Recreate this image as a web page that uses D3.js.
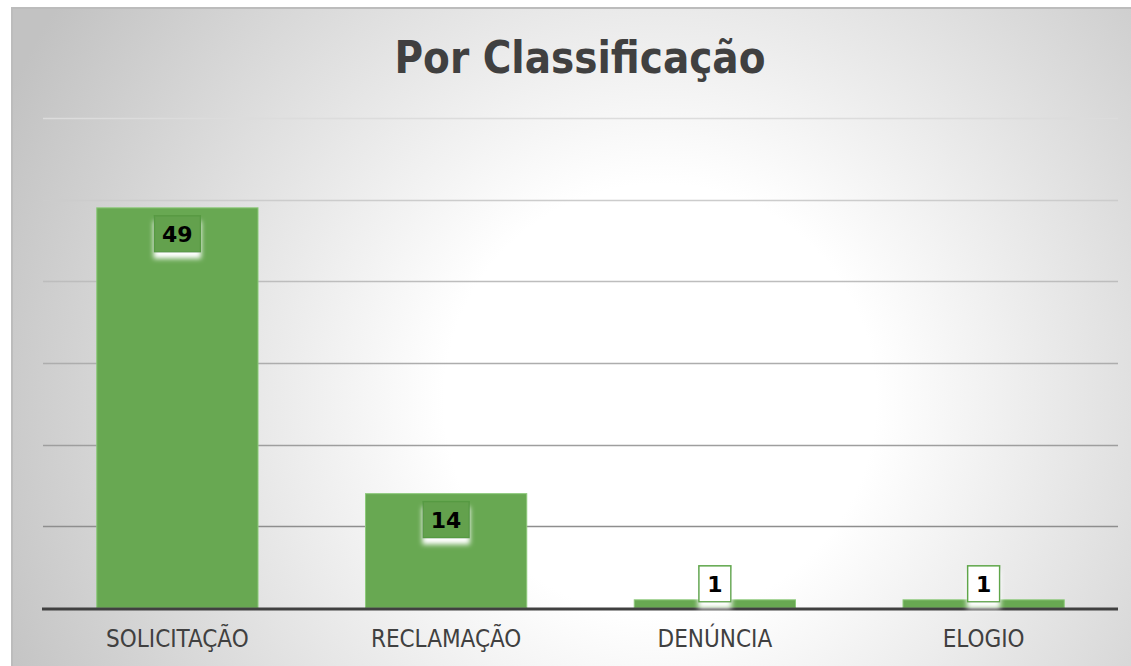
<!DOCTYPE html>
<html>
<head>
<meta charset="utf-8">
<script src="https://cdn.jsdelivr.net/npm/d3@7"></script>
<style>
  body { margin: 0; background: #ffffff; }
</style>
</head>
<body>
<div id="chart"></div>
<script>
// chart data
var categories = ["SOLICITAÇÃO", "RECLAMAÇÃO", "DENÚNCIA", "ELOGIO"];
var values = [49, 14, 1, 1];
var yTicks = [0, 10, 20, 30, 40, 50, 60];
var title = "Por Classificação";

var w = 1131,
    h = 666;

var svg = d3.select("#chart").append("svg")
    .attr("width", w)
    .attr("height", h);

var defs = svg.append("defs");

// background gradient, white in the middle, grey at the edges
var bg = defs.append("radialGradient")
    .attr("id", "bgGrad")
    .attr("gradientUnits", "userSpaceOnUse")
    .attr("cx", 660).attr("cy", 400).attr("r", 720);
bg.append("stop").attr("offset", "0%").attr("stop-color", "#ffffff");
bg.append("stop").attr("offset", "30%").attr("stop-color", "#ffffff");
bg.append("stop").attr("offset", "100%").attr("stop-color", "#c2c2c2");

// white glow under the data labels
var glow = defs.append("filter")
    .attr("id", "glow")
    .attr("x", "-30%").attr("y", "-30%")
    .attr("width", "160%").attr("height", "180%");
glow.append("feDropShadow")
    .attr("dx", 0).attr("dy", 6)
    .attr("stdDeviation", 2.5)
    .attr("flood-color", "#ffffff")
    .attr("flood-opacity", 1);

svg.append("rect")
    .attr("x", 12).attr("y", 8)
    .attr("width", w).attr("height", h)
    .attr("fill", "url(#bgGrad)")
    .attr("stroke", "#bcbcbc")
    .attr("stroke-width", 2);

var margin = {left: 43, right: 13, top: 118, bottom: 58};

var x = d3.scaleBand()
    .domain(categories)
    .range([margin.left, w - margin.right])
    .paddingInner(0.4)
    .paddingOuter(0.2);

var y = d3.scaleLinear()
    .domain([0, 60])
    .range([h - margin.bottom, margin.top]);

// gridlines get darker towards the bottom
var gridColor = d3.scaleLinear()
    .domain([60, 10])
    .range(["#dcdcdc", "#8e8e8e"]);

svg.append("g")
    .selectAll("line")
    .data(yTicks.filter(function(d) { return d > 0; }))
    .enter().append("line")
    .attr("x1", margin.left)
    .attr("x2", w - margin.right)
    .attr("y1", function(d) { return Math.round(y(d)) + 0.5; })
    .attr("y2", function(d) { return Math.round(y(d)) + 0.5; })
    .attr("stroke", function(d) { return gridColor(d); })
    .attr("stroke-width", 1.5);

// bars
svg.append("g")
    .selectAll("rect")
    .data(values)
    .enter().append("rect")
    .attr("x", function(d, i) { return x(categories[i]); })
    .attr("y", function(d) { return y(d); })
    .attr("width", x.bandwidth())
    .attr("height", function(d) { return y(0) - y(d); })
    .attr("fill", "#68a852")
    .attr("stroke", "#8cc97a")
    .attr("stroke-width", 1);

// baseline
svg.append("line")
    .attr("x1", margin.left - 1)
    .attr("x2", w - margin.right)
    .attr("y1", y(0) + 1)
    .attr("y2", y(0) + 1)
    .attr("stroke", "#404040")
    .attr("stroke-width", 3);

// data labels
var labels = svg.append("g")
    .selectAll("g")
    .data(values)
    .enter().append("g")
    .attr("transform", function(d, i) {
        var cx = x(categories[i]) + x.bandwidth() / 2;
        var inside = (y(0) - y(d)) > 60;
        var top = inside ? y(d) + 8 : y(d) - 34;
        return "translate(" + cx + "," + top + ")";
    });

labels.append("rect")
    .attr("x", function(d) { return String(d).length > 1 ? -23 : -16; })
    .attr("width", function(d) { return String(d).length > 1 ? 46 : 32; })
    .attr("height", 36)
    .attr("fill", function(d) { return (y(0) - y(d)) > 60 ? "#63a14d" : "#ffffff"; })
    .attr("stroke", function(d) { return (y(0) - y(d)) > 60 ? "#579a42" : "#5fa64a"; })
    .attr("stroke-width", 1.5)
    .attr("filter", "url(#glow)");

labels.append("text")
    .attr("x", 0)
    .attr("y", 26)
    .attr("text-anchor", "middle")
    .style("font-family", "'DejaVu Sans', sans-serif")
    .style("font-weight", "bold")
    .style("font-size", "22px")
    .attr("fill", "#000000")
    .text(function(d) { return d; });

// category labels
svg.append("g")
    .selectAll("text")
    .data(categories)
    .enter().append("text")
    .attr("x", function(d) { return x(d) + x.bandwidth() / 2; })
    .attr("y", 647)
    .attr("text-anchor", "middle")
    .style("font-family", "'DejaVu Sans Condensed', 'DejaVu Sans', sans-serif")
    .style("font-stretch", "condensed")
    .style("font-size", "24px")
    .attr("fill", "#404040")
    .text(function(d) { return d; });

// title
svg.append("text")
    .attr("x", 580)
    .attr("y", 73)
    .attr("text-anchor", "middle")
    .attr("textLength", 371)
    .attr("lengthAdjust", "spacingAndGlyphs")
    .style("font-family", "'DejaVu Sans Condensed', 'DejaVu Sans', sans-serif")
    .style("font-stretch", "condensed")
    .style("font-weight", "bold")
    .style("font-size", "45px")
    .attr("fill", "#404040")
    .text(title);
</script>
</body>
</html>
